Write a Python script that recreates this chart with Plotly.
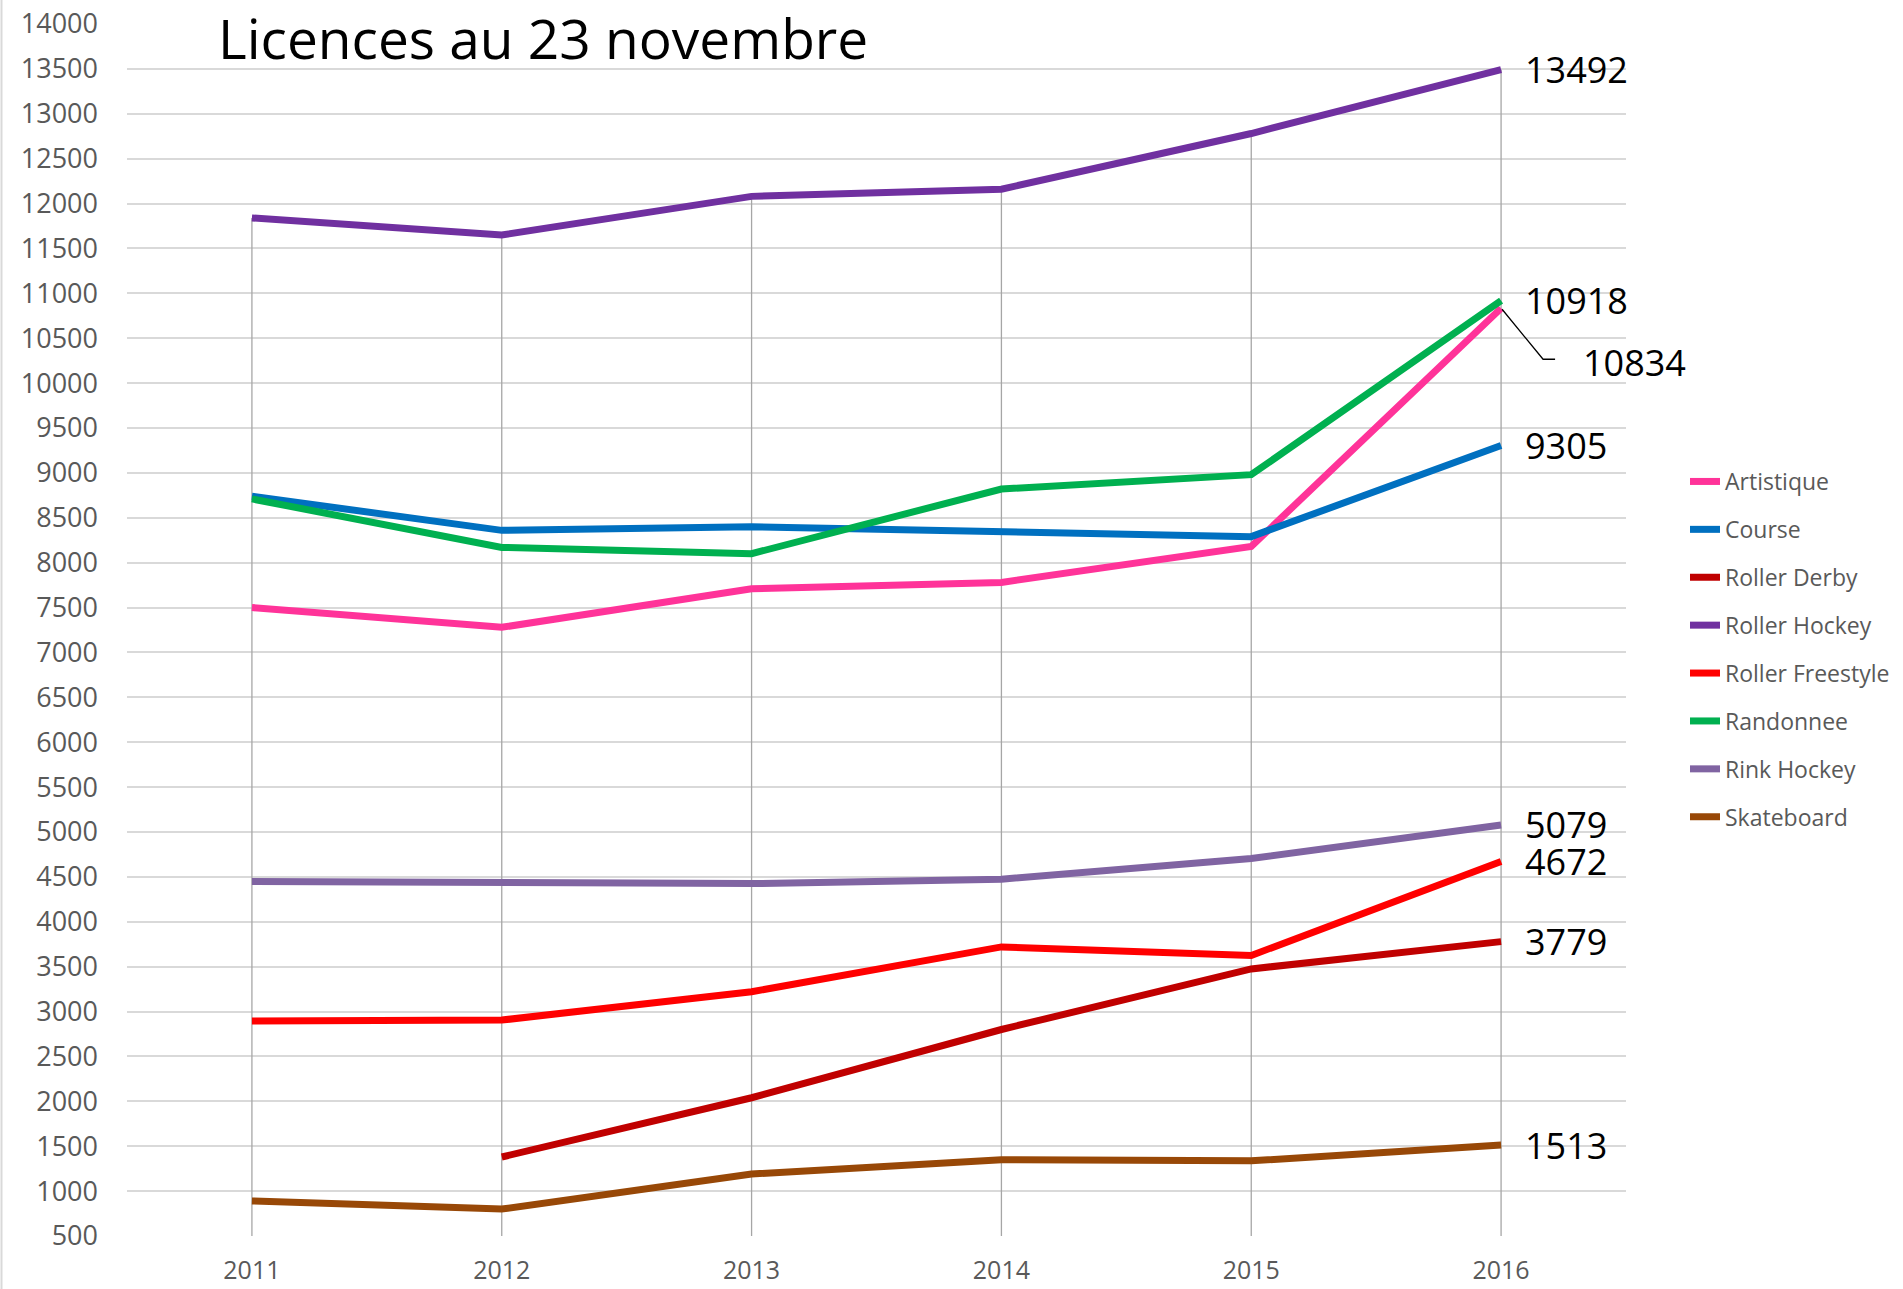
import plotly.graph_objects as go

years = ["2011", "2012", "2013", "2014", "2015", "2016"]

artistique = [7500, 7280, 7710, 7780, 8180, 10834]
course = [8740, 8360, 8400, 8345, 8290, 9305]
roller_derby = [None, 1380, 2040, 2800, 3475, 3779]
roller_hockey = [11840, 11650, 12080, 12160, 12780, 13492]
roller_freestyle = [2895, 2905, 3220, 3720, 3625, 4672]
randonnee = [8710, 8170, 8100, 8820, 8980, 10918]
rink_hockey = [4450, 4440, 4425, 4475, 4705, 5079]
skateboard = [890, 800, 1190, 1350, 1337, 1513]

series_names = ["Artistique", "Course", "Roller Derby", "Roller Hockey",
                "Roller Freestyle", "Randonnee", "Rink Hockey", "Skateboard"]
series_values = [artistique, course, roller_derby, roller_hockey,
                 roller_freestyle, randonnee, rink_hockey, skateboard]
series_colors = ["#FF3399", "#0070C0", "#C00000", "#7030A0",
                 "#FF0000", "#00B050", "#8064A2", "#984807"]

y_min, y_max = 500, 14000

FONT = "Open Sans"
W, H = 1903, 1289
L, R, T, B = 127, 277, 24, 53
PW, PH = W - L - R, H - T - B

fig = go.Figure()

# drop lines from highest point of each year down to the axis
dx, dy = [], []
for i, yr in enumerate(years):
    top = max(v[i] for v in series_values if v[i] is not None)
    dx += [i, i, i]
    dy += [y_min, top, None]
fig.add_trace(go.Scatter(x=dx, y=dy, mode="lines", line=dict(color="#A6A6A6", width=1.3),
                         showlegend=False, hoverinfo="skip", connectgaps=False))

xs = list(range(len(years)))
for name, vals, col in zip(series_names, series_values, series_colors):
    fig.add_trace(go.Scatter(x=xs, y=vals, name=name, mode="lines",
                             line=dict(color=col, width=7),
                             legendgroup=name, connectgaps=False))

annotations = []
shapes = []
last_i = len(years) - 1
for name, vals in zip(series_names, series_values):
    last = vals[-1]
    if name == "Artistique":
        annotations.append(dict(x=last_i, y=last, xref="x", yref="y", text=str(last),
                                showarrow=False, xanchor="left", yanchor="middle",
                                xshift=80, yshift=-54,
                                font=dict(family=FONT, size=36, color="black")))
        # elbow leader line anchored at the data point
        shapes.append(dict(type="path", xref="x", yref="y",
                           xsizemode="pixel", ysizemode="pixel",
                           xanchor=last_i, yanchor=last,
                           path="M1,-1 L42,-51 L54,-51",
                           line=dict(color="black", width=1.3)))
    else:
        annotations.append(dict(x=last_i, y=last, xref="x", yref="y", text=str(last),
                                showarrow=False, xanchor="left", yanchor="middle", xshift=22,
                                font=dict(family=FONT, size=36, color="black")))

annotations.append(dict(x=(216 - L) / PW, y=1 - (38 - T) / PH, xref="paper", yref="paper",
                        text="Licences au 23 novembre", showarrow=False,
                        xanchor="left", yanchor="middle",
                        font=dict(family=FONT, size=55, color="black")))

# thin frame line on the left edge of the chart
shapes.append(dict(type="line", xref="paper", yref="paper",
                   x0=(1.5 - L) / PW, x1=(1.5 - L) / PW,
                   y0=-B / PH, y1=1 + T / PH,
                   line=dict(color="#D9D9D9", width=2)))

fig.update_layout(
    width=W, height=H, autosize=False,
    margin=dict(l=L, r=R, t=T, b=B, autoexpand=False),
    paper_bgcolor="white", plot_bgcolor="white",
    font=dict(family=FONT, color="#595959"),
    annotations=annotations,
    shapes=shapes,
    showlegend=True,
    legend=dict(x=(1685 - L) / PW, xanchor="left", y=1 - (460 - T) / PH, yanchor="top",
                font=dict(family=FONT, size=23, color="#595959"),
                tracegroupgap=15, traceorder="grouped",
                bgcolor="rgba(0,0,0,0)"),
)
fig.update_xaxes(range=[-0.5, len(years) - 0.5], tickvals=xs, ticktext=years,
                 showgrid=False, zeroline=False, showline=False, automargin=False,
                 tickfont=dict(family=FONT, size=25, color="#595959"),
                 ticks="", ticklabelstandoff=17)
fig.update_yaxes(range=[y_min, y_max], dtick=500, tick0=500, tickformat="d",
                 showgrid=True, gridcolor="#D9D9D9", gridwidth=2,
                 zeroline=False, showline=False, automargin=False,
                 tickfont=dict(family=FONT, size=27, color="#595959"),
                 ticks="", ticklabelstandoff=28)

fig.write_html("out.html", config={"displayModeBar": False},
               post_script="document.body.style.margin='0';document.body.style.overflow='hidden';")
